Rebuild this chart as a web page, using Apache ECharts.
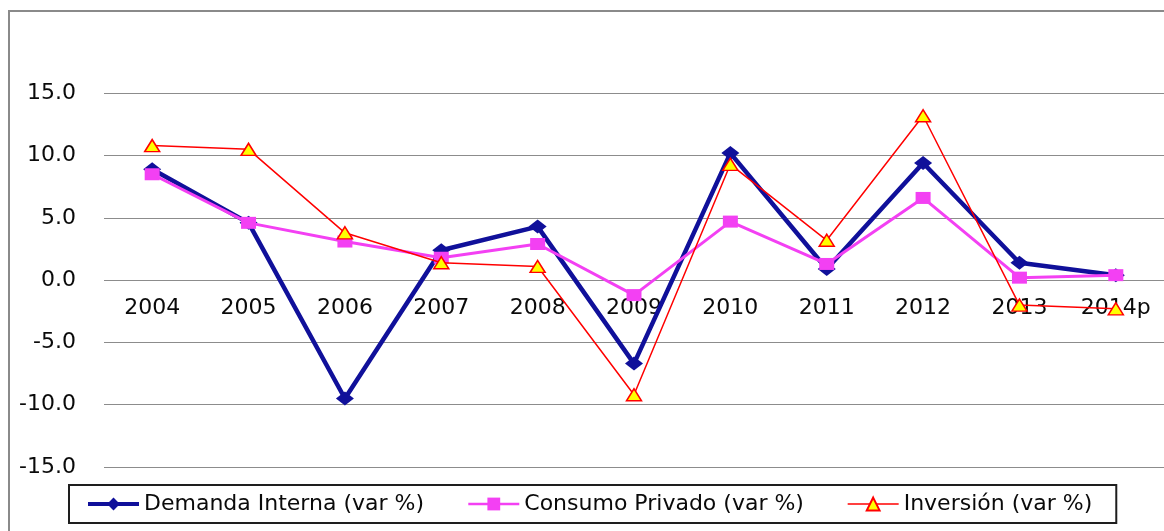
<!DOCTYPE html>
<html>
<head>
<meta charset="utf-8">
<script src="https://cdn.jsdelivr.net/npm/echarts@6/dist/echarts.min.js"></script>
<style>
  html, body { margin: 0; padding: 0; background: #fff; }
  #chart { width: 1164px; height: 531px; }
</style>
</head>
<body>
<div id="chart"></div>
<script>
const categories = ['2004', '2005', '2006', '2007', '2008', '2009', '2010', '2011', '2012', '2013', '2014p'];
const demandaInterna = [8.9, 4.6, -9.5, 2.4, 4.3, -6.7, 10.2, 0.9, 9.4, 1.4, 0.4];
const consumoPrivado = [8.5, 4.6, 3.1, 1.8, 2.9, -1.2, 4.7, 1.3, 6.6, 0.2, 0.4];
const inversion = [10.8, 10.5, 3.8, 1.4, 1.1, -9.2, 9.3, 3.2, 13.2, -2.0, -2.3];
const seriesNames = ['Demanda Interna (var %)', 'Consumo Privado (var %)', 'Inversión (var %)'];

const FONT = 'DejaVu Sans';
const Y_MIN = -15, Y_MAX = 15;
const GRID_TOP = 93.3, GRID_BOTTOM = 64, CHART_H = 531;
const plotH = CHART_H - GRID_TOP - GRID_BOTTOM;
// shift the category axis up from the bottom edge to the zero line
const zeroOffset = -plotH * (0 - Y_MIN) / (Y_MAX - Y_MIN);

const chart = echarts.init(document.getElementById('chart'), null, { renderer: 'canvas' });

chart.setOption({
  animation: false,
  backgroundColor: '#ffffff',
  textStyle: { fontFamily: FONT },
  graphic: [{
    type: 'rect',
    z: 0,
    shape: { x: 9, y: 11, width: 1300, height: 700 },
    style: { fill: 'none', stroke: '#8a8a8a', lineWidth: 2 }
  }],
  grid: { left: 104, top: GRID_TOP, width: 1069, bottom: GRID_BOTTOM, containLabel: false },
  legend: {
    left: 69,
    top: 485,
    orient: 'horizontal',
    borderColor: '#1e1e1e',
    borderWidth: 2,
    padding: [8, 24, 8, 17],
    itemGap: 43,
    itemWidth: 51,
    itemHeight: 16,
    textStyle: { fontFamily: FONT, fontSize: 22, color: '#0a0a0a' },
    data: [
      { name: seriesNames[0], lineStyle: { width: 4, color: '#10109a' } },
      { name: seriesNames[1], lineStyle: { width: 2.5, color: '#f340f3' } },
      { name: seriesNames[2], lineStyle: { width: 1.5, color: '#ff0000' } }
    ]
  },
  xAxis: {
    type: 'category',
    data: categories,
    boundaryGap: true,
    offset: zeroOffset,
    axisLine: { show: false, onZero: false },
    axisTick: { show: false },
    axisLabel: { fontFamily: FONT, fontSize: 22, color: '#0a0a0a', margin: 17 },
    splitLine: { show: false },
    z: 0
  },
  yAxis: {
    type: 'value',
    min: Y_MIN,
    max: Y_MAX,
    interval: 5,
    axisLine: { show: false },
    axisTick: { show: false },
    axisLabel: {
      fontFamily: FONT, fontSize: 22, color: '#0a0a0a', margin: 28,
      formatter: v => v.toFixed(1)
    },
    splitLine: { show: true, lineStyle: { color: '#8c8c8c', width: 1 } }
  },
  series: [
    {
      name: seriesNames[0],
      type: 'line',
      data: demandaInterna,
      symbol: 'diamond',
      symbolSize: [18, 14],
      lineStyle: { color: '#10109a', width: 4.5 },
      itemStyle: { color: '#10109a' },
      z: 2
    },
    {
      name: seriesNames[1],
      type: 'line',
      data: consumoPrivado,
      symbol: 'rect',
      symbolSize: [15, 12],
      lineStyle: { color: '#f340f3', width: 3 },
      itemStyle: { color: '#f340f3' },
      z: 3
    },
    {
      name: seriesNames[2],
      type: 'line',
      data: inversion,
      symbol: 'triangle',
      symbolSize: [15, 12],
      lineStyle: { color: '#ff0000', width: 1.5 },
      itemStyle: { color: '#ffff00', borderColor: '#ff0000', borderWidth: 1.5 },
      z: 4
    }
  ]
});
</script>
</body>
</html>
